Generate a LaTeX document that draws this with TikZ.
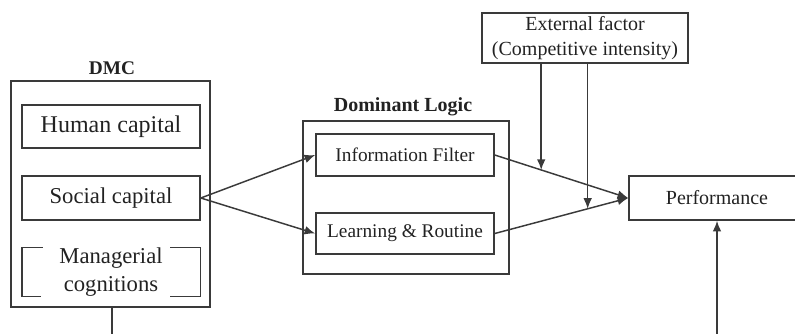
\documentclass[tikz,border=0pt]{standalone}
\usepackage{fontspec}
\setmainfont{Liberation Serif}
\usetikzlibrary{arrows.meta,calc}
\definecolor{ln}{HTML}{3A3A3A}
\definecolor{tx}{HTML}{222222}
\tikzset{
  box/.style={draw=ln, line width=1.15pt, inner sep=0pt, text=tx, align=center},
  conn/.style={draw=ln, line width=1.1pt, -{Latex[length=8pt,width=6.5pt]}},
  plain/.style={draw=ln, line width=1.15pt},
  ttl/.style={text=tx, font=\fontsize{15}{18}\selectfont\bfseries, inner sep=0pt}
}
\begin{document}
\begin{tikzpicture}[x=0.75pt,y=-0.75pt]
\useasboundingbox (0,0) rectangle (795,333);
\clip (0,0) rectangle (795,333);
% DMC
\node[ttl, font=\fontsize{14.5}{17}\selectfont\bfseries] (dmct) at (112,68) {DMC};
\node[box, minimum width=149.25pt, minimum height=169.5pt] (dmc) at (110.5,194) {};
\node[box, minimum width=133.5pt, minimum height=32.25pt, font=\fontsize{18}{21}\selectfont] (hc) at (111,126.5) {Human capital};
\node[box, minimum width=133.5pt, minimum height=33pt, font=\fontsize{17}{20}\selectfont] (sc) at (111,198) {Social capital};
\node[inner sep=0pt, minimum width=133.5pt, minimum height=32.25pt, text=tx, align=center, font=\fontsize{17}{21}\selectfont] (mc) at (111,272) {Managerial\\cognitions};
\draw[plain] ($(mc.north west)+(21,0)$) -- (mc.north west) -- (mc.south west) -- ($(mc.south west)+(19,0)$);
\draw[plain] ($(mc.north east)+(-30,0)$) -- (mc.north east) -- (mc.south east) -- ($(mc.south east)+(-30,0)$);
% Dominant logic
\node[ttl] (dlt) at (403,107) {Dominant Logic};
\node[box, minimum width=154.5pt, minimum height=114.75pt] (dl) at (406,197.5) {};
\node[box, minimum width=133.5pt, minimum height=31.5pt, font=\fontsize{14.5}{17}\selectfont] (inf) at (405,155) {Information Filter};
\node[box, minimum width=133.5pt, minimum height=30.75pt, font=\fontsize{14.5}{17}\selectfont] (lr) at (405,233.5) {Learning \& Routine};
% External factor
\node[box, minimum width=154.5pt, minimum height=37.5pt, font=\fontsize{15}{18.75}\selectfont] (ext) at (585,38) {External factor\\(Competitive intensity)};
% Performance
\node[box, minimum width=132pt, minimum height=33pt, font=\fontsize{15}{18}\selectfont] (perf) at (717,198) {Performance};
% connectors
\draw[conn] (sc.east) -- (inf.west);
\draw[conn] (sc.east) -- (lr.west);
\draw[conn] (inf.east) -- (perf.west);
\draw[conn] (lr.east) -- (perf.west);
\coordinate (m1) at ($(inf.east)!0.348!(perf.west)$);
\coordinate (m2) at ($(lr.east)!0.696!(perf.west)$);
\draw[conn] (m1 |- ext.south) -- (m1);
\draw[conn] (m2 |- ext.south) -- (m2);
\coordinate (b1) at (112,340);
\coordinate (b2) at (717,340);
\draw[plain] (dmc.south -| b1) -- (b1);
\draw[conn] (b2) -- (perf.south);
\end{tikzpicture}
\end{document}
